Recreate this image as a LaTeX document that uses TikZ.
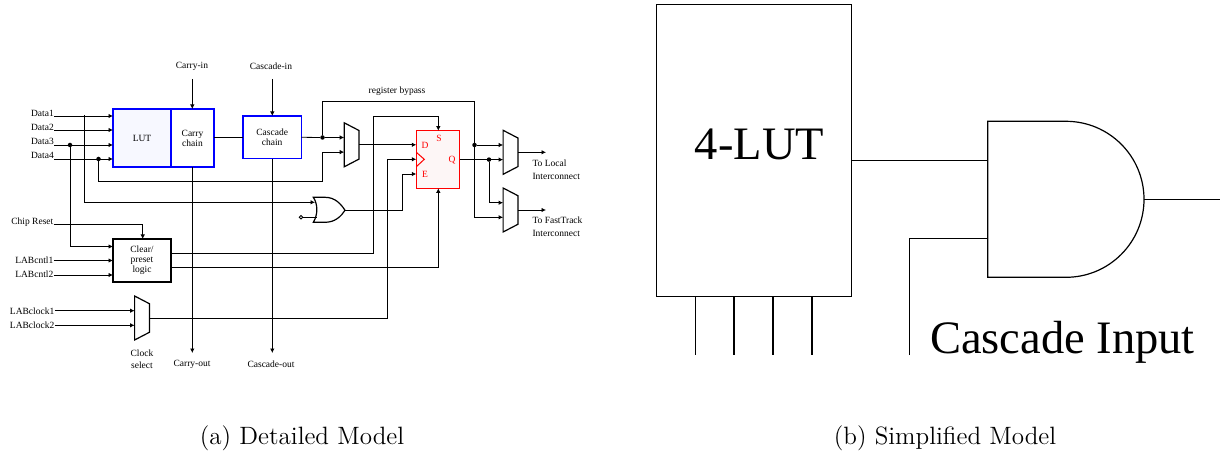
\documentclass[tikz,border=0pt]{standalone}
\usepackage{fontspec}
\usepackage{tikz}
\usetikzlibrary{arrows.meta}
\newfontfamily\figfont{Liberation Serif}
\definecolor{lutfill}{HTML}{F7F8FF}
\definecolor{fffill}{HTML}{FDF6F6}
\newcommand{\captext}[1]{\scalebox{1.741}{#1}}
\tikzset{
	wire/.style={line width=0.8pt},
	pin/.style={wire, -{Latex[length=4.5pt, width=4.5pt]}},
	txt/.style={inner sep=0pt, align=center, font=\figfont\fontsize{9.5}{10}\selectfont},
	blockb/.style={draw=blue, line width=1.7pt, inner sep=0pt, outer sep=0pt, txt},
	dot/.style={circle, fill, inner sep=0pt, minimum size=4.5pt},
	big/.style={inner sep=0pt, font=\figfont\fontsize{46.5}{50}\selectfont},
	caption/.style={inner sep=0pt, font=\fontsize{14.4}{17}\selectfont},
	wireb/.style={line width=1.2pt}
}
\begin{document}
\begin{tikzpicture}[x=1pt, y=-1pt]
	\useasboundingbox (0, 0) rectangle (1220, 454);

	\node[blockb, fill=lutfill, minimum width=58pt, minimum height=58pt] (lut) at (142, 138) {LUT};
	\node[blockb, minimum width=43pt, minimum height=58pt] (carry) at (192.5, 138) {Carry\\chain};
	\node[blockb, minimum width=58.5pt, minimum height=42.7pt] (cascade) at (272.2, 137.3) {Cascade\\chain};
	\node[draw, line width=1.7pt, txt, outer sep=0pt, minimum width=58pt, minimum height=42.7pt] (clear) at (142, 260.3) {Clear/\\preset\\logic};
	\node[draw=red, fill=fffill, line width=1pt, inner sep=0pt, outer sep=0pt, minimum width=43.4pt, minimum height=57.6pt] (ff) at (438, 159.5) {};

	\foreach \name/\lab/\y in {dataA/Data1/113, dataB/Data2/127, dataC/Data3/141, dataD/Data4/155.5} {
		\node[txt, anchor=east] (\name) at (54, \y) {\lab};
	}
	\node[txt, anchor=east] (reset) at (53.5, 222.5) {Chip Reset};
	\node[txt, anchor=east] (cntlA) at (53.5, 260) {LABcntl1};
	\node[txt, anchor=east] (cntlB) at (53.5, 274) {LABcntl2};
	\node[txt, anchor=east] (clkA) at (54.5, 311) {LABclock1};
	\node[txt, anchor=east] (clkB) at (54.5, 325.5) {LABclock2};
	\node[txt] (carryin) at (192, 66.5) {Carry-in};
	\node[txt] (cascin) at (271, 66.5) {Cascade-in};
	\node[txt] (carryout) at (192, 364) {Carry-out};
	\node[txt] (cascout) at (271, 364) {Cascade-out};
	\node[txt, font=\figfont\fontsize{9.5}{12}\selectfont] (clksel) at (142, 359) {Clock\\select};
	\node[txt] (bypass) at (397, 91) {register bypass};
	\node[txt, anchor=west, align=left, font=\figfont\fontsize{9.5}{12.5}\selectfont] (tolocal) at (532.3, 170) {To Local\\Interconnect};
	\node[txt, anchor=west, align=left, font=\figfont\fontsize{9.5}{12.5}\selectfont] (tofast) at (532.3, 227) {To FastTrack\\Interconnect};

	\foreach \lab/\x/\y in {D/425/145, S/439/138, Q/452/160, E/425/174} {
		\node[txt, text=red] (ff\lab) at (\x, \y) {\lab};
	}
	\coordinate (ffclkA) at (416.3, 152.3);
	\coordinate (ffclkB) at (424.3, 159.3);
	\coordinate (ffclkC) at (416.3, 166.7);
	\draw[draw=red, line width=1pt] (ffclkA) -- (ffclkB) -- (ffclkC);

	\foreach \name/\x/\y in {muxs/351.6/144.8, muxc/142/318, muxl/510.5/152.3, muxf/510.5/210} {
		\draw[line width=1.2pt] (\x-7.4, \y-22) -- (\x+7.4, \y-14.3) -- (\x+7.4, \y+14.3) -- (\x-7.4, \y+22) -- cycle;
		\coordinate (\name-a) at (\x-7.4, \y-7.3);
		\coordinate (\name-b) at (\x-7.4, \y+7.3);
		\coordinate (\name-o) at (\x+7.4, \y);
	}

	\coordinate (orA) at (315, 202.3);
	\coordinate (orB) at (316.5, 217.3);
	\coordinate (orO) at (345, 210.3);
	\draw[line width=1.2pt] (313.3, 197.3) -- (325, 197.3) .. controls (335, 197.3) and (341, 204) .. (orO)
		.. controls (341, 216.5) and (335, 222.3) .. (325, 222.3) -- (313.3, 222.3)
		.. controls (318, 215) and (318, 204) .. cycle;
	\node[draw, circle, wire, inner sep=0pt, minimum size=3.5pt, fill=white] (inv) at (301, 217.3) {};
	\draw[wire] (inv) -- (orB);

	\coordinate (lutA) at (113, 116);
	\coordinate (lutB) at (113, 130);
	\coordinate (lutC) at (113, 145);
	\coordinate (lutD) at (113, 159);
	\draw[pin] (dataA.east |- lutA) -- (lutA);
	\draw[pin] (dataB.east |- lutB) -- (lutB);
	\draw[pin] (dataC.east |- lutC) -- (lutC);
	\draw[pin] (dataD.east |- lutD) -- (lutD);
	\node[dot] (dotC) at (70, 145) {};
	\node[dot] (dotD) at (98.5, 159) {};
	\coordinate (tapA) at (84.5, 115);
	\coordinate (clrA) at (113, 246.5);
	\coordinate (clrB) at (113, 260.5);
	\coordinate (clrC) at (113, 275);
	\coordinate (clrT) at (142.7, 239);
	\draw[pin] (tapA) |- (orA);
	\draw[pin] (dotC) |- (clrA);
	\draw[pin] (cntlA.east |- clrB) -- (clrB);
	\draw[pin] (cntlB.east |- clrC) -- (clrC);
	\draw[pin] ([yshift=-1.8pt]reset.east) -| (clrT);
	\draw[pin] (clkA.east |- muxc-a) -- (muxc-a);
	\draw[pin] (clkB.east |- muxc-b) -- (muxc-b);

	\coordinate (carrytop) at (192.3, 79);
	\coordinate (casctop) at (272.3, 79);
	\coordinate (carryend) at (192.3, 353);
	\coordinate (cascend) at (272.3, 353);
	\draw[pin] (carrytop) -- (carrytop |- carry.north);
	\draw[pin] (casctop) -- (casctop |- cascade.north);
	\draw[pin] (carryend |- carry.south) -- (carryend);
	\draw[pin] (cascend |- cascade.south) -- (cascend);
	\draw[wire] (carry.east |- cascade.west) -- (cascade.west);

	\node[dot] (dotO) at (322.5, 137.5) {};
	\node[dot] (dotQ) at (489, 159.6) {};
	\node[dot] (dotB) at (474.5, 145) {};
	\coordinate (bypasstop) at (474.5, 101.7);
	\coordinate (bendD) at (322.5, 181);
	\draw[wire] (cascade.east) -- (dotO);
	\draw[pin] (dotO) -- (muxs-a);
	\draw[pin] (dotD) |- (bendD) |- (muxs-b);
	\draw[wire] (dotO) |- (bypasstop) -- (dotB);
	\draw[pin] (dotB) |- (muxf-b);
	\draw[pin] (dotB) -- (muxl-a);
	\coordinate (ffd) at (ff.west |- muxs-o);
	\coordinate (ffc) at (416.3, 159.3);
	\coordinate (ffe) at (416.3, 174);
	\coordinate (ffs) at (438.3, 130.7);
	\coordinate (ffr) at (438.3, 188.3);
	\coordinate (bendS) at (373.3, 116);
	\coordinate (bendC) at (387.3, 318);
	\coordinate (bendE) at (402.3, 210.3);
	\draw[pin] (muxs-o) -- (ffd);
	\draw[pin] (clear.east |- 0, 253.3) -| (bendS) -| (ffs);
	\draw[pin] (clear.east |- 0, 267.3) -| (ffr);
	\draw[pin] (muxc-o) -- (bendC) |- (ffc);
	\draw[pin] (orO) -- (bendE) |- (ffe);
	\draw[pin] (ff.east |- muxl-b) -- (muxl-b);
	\draw[pin] (dotQ) |- (muxf-a);
	\coordinate (outL) at (546, 152.3);
	\coordinate (outF) at (546, 210);
	\draw[pin] (muxl-o) -- (outL);
	\draw[pin] (muxf-o) -- (outF);

	\node[draw, wireb, inner sep=0pt, outer sep=0pt, minimum width=195.3pt, minimum height=292pt] (lutb) at (754, 150.5) {};
	\node[big] (lutlab) at (759.5, 144) {4-LUT};
	\node[big] (casclab) at (1062.5, 342.5) {Cascade Input};
	\foreach \x in {695.5, 734, 773, 812} {
		\draw[wireb] (lutb.south -| \x, 0) -- (\x, 355);
	}
	\coordinate (andA) at (987.8, 160.3);
	\coordinate (andB) at (987.8, 238.3);
	\coordinate (andO) at (1144, 199.3);
	\coordinate (outb) at (1220, 199.3);
	\coordinate (cascpin) at (909.7, 355);
	\draw[wireb] (987.8, 121.3) -- (1066, 121.3) arc[start angle=90, end angle=-90, radius=78pt] -- (987.8, 277.3) -- cycle;
	\draw[wireb] (lutb.east |- andA) -- (andA);
	\draw[wireb] (cascpin) |- (andB);
	\draw[wireb] (andO) -- (outb);

	\node[caption] (capa) at (302, 438) {\captext{(a) Detailed Model}};
	\node[caption] (capb) at (945, 438) {\captext{(b) Simplified Model}};
\end{tikzpicture}
\end{document}
